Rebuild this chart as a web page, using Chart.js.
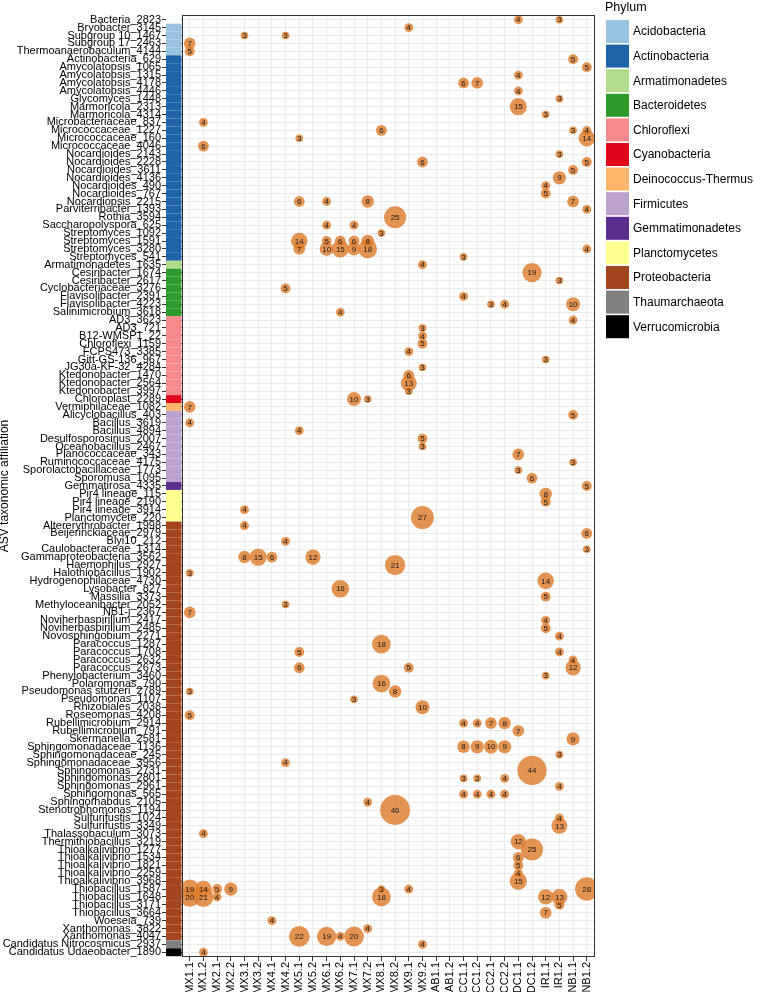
<!DOCTYPE html>
<html lang="en">
<head>
  <meta charset="UTF-8" />
  <title>ASV bubble plot by sample</title>
  <script src="https://cdn.jsdelivr.net/npm/chart.js"></script>
  <style>
    html, body { margin: 0; padding: 0; background: #fff; }
    #wrap { position: relative; width: 760px; height: 992px; }
    canvas { display: block; }
  </style>
</head>
<body>
  <div id="wrap"><canvas id="bubbleChart"></canvas></div>

  <script>
    const FONT = '"Liberation Sans", Arial, Helvetica, sans-serif';

    // x categories (samples)
    const samples = ['MX1.1', 'MX1.2', 'MX2.1', 'MX2.2', 'MX3.1', 'MX3.2', 'MX4.1', 'MX4.2', 'MX5.1', 'MX5.2',
      'MX6.1', 'MX6.2', 'MX7.1', 'MX7.2', 'MX8.1', 'MX8.2', 'MX9.1', 'MX9.2', 'AB1.1', 'AB1.2',
      'CC1.1', 'CC1.2', 'CC2.1', 'CC2.2', 'DC1.1', 'DC1.2', 'IR1.1', 'IR1.2', 'NB1.1', 'NB1.2'];

    // y categories (ASVs), top to bottom
    const asvs = ['Bacteria_2823', 'Bryobacter_3145', 'Subgroup 10_1467', 'Subgroup 17_2463', 'Thermoanaerobaculum_4144',
      'Actinobacteria_629', 'Amycolatopsis_1065', 'Amycolatopsis_1315', 'Amycolatopsis_4178', 'Amycolatopsis_4446',
      'Glycomyces_1448', 'Marmoricola_2313', 'Marmoricola_4314', 'Microbacteriaceae_837', 'Micrococcaceae_1227',
      'Micrococcaceae_160', 'Micrococcaceae_4046', 'Nocardioides_2143', 'Nocardioides_2228', 'Nocardioides_3611',
      'Nocardioides_4136', 'Nocardioides_490', 'Nocardioides_767', 'Nocardiopsis_2215', 'Parviterribacter_1393',
      'Rothia_3594', 'Saccharopolyspora_625', 'Streptomyces_1092', 'Streptomyces_1591', 'Streptomyces_3280',
      'Streptomyces_541', 'Armatimonadetes_1635', 'Cesiribacter_1674', 'Cesiribacter_2617', 'Cyclobacteriaceae_3276',
      'Flavisolibacter_2391', 'Flavisolibacter_4223', 'Salinimicrobium_3618', 'AD3_3623', 'AD3_721',
      'B12-WMSP1_22', 'Chloroflexi_1159', 'FCPS473_3385', 'Gitt-GS-136_967', 'JG30a-KF-32_4284',
      'Ktedonobacter_1470', 'Ktedonobacter_2564', 'Ktedonobacter_3997', 'Chloroplast_2289', 'Vermiphilaceae_1082',
      'Alicyclobacillus_403', 'Bacillus_3619', 'Bacillus_4894', 'Desulfosporosinus_2007', 'Oceanobacillus_2467',
      'Planococcaceae_343', 'Ruminococcaceae_4175', 'Sporolactobacillaceae_1773', 'Sporomusa_1095', 'Gemmatirosa_4335',
      'Pir4 lineage_115', 'Pir4 lineage_2190', 'Pir4 lineage_3914', 'Planctomycete_220', 'Altererythrobacter_1998',
      'Beijerinckiaceae_2979', 'Blyi10_212', 'Caulobacteraceae_1314', 'Gammaproteobacteria_3562', 'Haemophilus_2927',
      'Halothiobacillus_1902', 'Hydrogenophilaceae_4730', 'Lysobacter_827', 'Massilia_3373', 'Methyloceanibacter_2052',
      'NB1-j_2367', 'Noviherbaspirillum_2417', 'Noviherbaspirillum_2485', 'Novosphingobium_2271', 'Paracoccus_1287',
      'Paracoccus_1708', 'Paracoccus_2632', 'Paracoccus_2673', 'Phenylobacterium_3460', 'Polaromonas_790',
      'Pseudomonas stutzeri_2789', 'Pseudomonas_1107', 'Rhizobiales_2038', 'Roseomonas_4208', 'Rubellimicrobium_2914',
      'Rubellimicrobium_791', 'Skermanella_2581', 'Sphingomonadaceae_1136', 'Sphingomonadaceae_245', 'Sphingomonadaceae_3956',
      'Sphingomonas_2731', 'Sphingomonas_2801', 'Sphingomonas_2961', 'Sphingomonas_565', 'Sphingorhabdus_2105',
      'Stenotrophomonas_1194', 'Sulfurifustis_1024', 'Sulfurifustis_3349', 'Thalassobaculum_3073', 'Thermithiobacillus_3219',
      'Thioalkalivibrio_1277', 'Thioalkalivibrio_1534', 'Thioalkalivibrio_1821', 'Thioalkalivibrio_2259', 'Thioalkalivibrio_3968',
      'Thiobacillus_1587', 'Thiobacillus_1648', 'Thiobacillus_3171', 'Thiobacillus_3664', 'Woeseia_739',
      'Xanthomonas_3822', 'Xanthomonas_4047', 'Candidatus Nitrocosmicus_2937', 'Candidatus Udaeobacter_1890'];

    // legend
    const phyla = ['Acidobacteria', 'Actinobacteria', 'Armatimonadetes', 'Bacteroidetes', 'Chloroflexi', 'Cyanobacteria',
      'Deinococcus-Thermus', 'Firmicutes', 'Gemmatimonadetes', 'Planctomycetes', 'Proteobacteria', 'Thaumarchaeota',
      'Verrucomicrobia'];
    const phylumColors = ['#97c3e0', '#1f64a9', '#b1dc8c', '#2f9a2c', '#f6898b', '#e0061c', '#fdb56c', '#bca2cf',
      '#5a2d8e', '#ffff8f', '#a3461f', '#808080', '#000000'];

    // phylum of the ASVs, as consecutive runs down the y axis (null = unassigned)
    const phylumRuns = [[null, 1], ['Acidobacteria', 4], ['Actinobacteria', 26], ['Armatimonadetes', 1],
      ['Bacteroidetes', 6], ['Chloroflexi', 10], ['Cyanobacteria', 1], ['Deinococcus-Thermus', 1], ['Firmicutes', 9],
      ['Gemmatimonadetes', 1], ['Planctomycetes', 4], ['Proteobacteria', 53], ['Thaumarchaeota', 1], ['Verrucomicrobia', 1]];

    // [ASV, sample, count]
    const cells = [
      ['Bacteria_2823', 'DC1.1', 4], ['Bacteria_2823', 'IR1.2', 3],
      ['Bryobacter_3145', 'MX9.1', 4],
      ['Subgroup 10_1467', 'MX3.1', 3], ['Subgroup 10_1467', 'MX4.2', 3],
      ['Subgroup 17_2463', 'MX1.1', 7],
      ['Thermoanaerobaculum_4144', 'MX1.1', 5],
      ['Actinobacteria_629', 'NB1.1', 5],
      ['Amycolatopsis_1065', 'NB1.2', 5],
      ['Amycolatopsis_1315', 'DC1.1', 4],
      ['Amycolatopsis_4178', 'CC1.1', 6], ['Amycolatopsis_4178', 'CC1.2', 7],
      ['Amycolatopsis_4446', 'DC1.1', 4],
      ['Glycomyces_1448', 'IR1.2', 3],
      ['Marmoricola_2313', 'DC1.1', 15],
      ['Marmoricola_4314', 'IR1.1', 3],
      ['Microbacteriaceae_837', 'MX1.2', 4],
      ['Micrococcaceae_1227', 'MX8.1', 6], ['Micrococcaceae_1227', 'NB1.1', 3], ['Micrococcaceae_1227', 'NB1.2', 4],
      ['Micrococcaceae_160', 'MX5.1', 3], ['Micrococcaceae_160', 'NB1.2', 14],
      ['Micrococcaceae_4046', 'MX1.2', 6],
      ['Nocardioides_2143', 'IR1.2', 3],
      ['Nocardioides_2228', 'MX9.2', 6], ['Nocardioides_2228', 'NB1.2', 5],
      ['Nocardioides_3611', 'NB1.1', 5],
      ['Nocardioides_4136', 'IR1.2', 9],
      ['Nocardioides_490', 'IR1.1', 4],
      ['Nocardioides_767', 'IR1.1', 5],
      ['Nocardiopsis_2215', 'MX5.1', 6], ['Nocardiopsis_2215', 'MX6.1', 4], ['Nocardiopsis_2215', 'MX7.2', 8], ['Nocardiopsis_2215', 'NB1.1', 7],
      ['Parviterribacter_1393', 'NB1.2', 4],
      ['Rothia_3594', 'MX8.2', 25],
      ['Saccharopolyspora_625', 'MX6.1', 4], ['Saccharopolyspora_625', 'MX7.1', 4],
      ['Streptomyces_1092', 'MX8.1', 3],
      ['Streptomyces_1591', 'MX5.1', 14], ['Streptomyces_1591', 'MX6.1', 5], ['Streptomyces_1591', 'MX6.2', 6], ['Streptomyces_1591', 'MX7.1', 6], ['Streptomyces_1591', 'MX7.2', 8],
      ['Streptomyces_3280', 'MX5.1', 7], ['Streptomyces_3280', 'MX6.1', 10], ['Streptomyces_3280', 'MX6.2', 15], ['Streptomyces_3280', 'MX7.1', 9], ['Streptomyces_3280', 'MX7.2', 18], ['Streptomyces_3280', 'NB1.2', 4],
      ['Streptomyces_541', 'CC1.1', 3],
      ['Armatimonadetes_1635', 'MX9.2', 4],
      ['Cesiribacter_1674', 'DC1.2', 19],
      ['Cesiribacter_2617', 'IR1.2', 3],
      ['Cyclobacteriaceae_3276', 'MX4.2', 5],
      ['Flavisolibacter_2391', 'CC1.1', 4],
      ['Flavisolibacter_4223', 'CC2.1', 3], ['Flavisolibacter_4223', 'CC2.2', 4], ['Flavisolibacter_4223', 'NB1.1', 10],
      ['Salinimicrobium_3618', 'MX6.2', 4],
      ['AD3_3623', 'NB1.1', 4],
      ['AD3_721', 'MX9.2', 3],
      ['B12-WMSP1_22', 'MX9.2', 4],
      ['Chloroflexi_1159', 'MX9.2', 5],
      ['FCPS473_3385', 'MX9.1', 4],
      ['Gitt-GS-136_967', 'IR1.1', 3],
      ['JG30a-KF-32_4284', 'MX9.2', 3],
      ['Ktedonobacter_1470', 'MX9.1', 6],
      ['Ktedonobacter_2564', 'MX9.1', 13],
      ['Ktedonobacter_3997', 'MX9.1', 3],
      ['Chloroplast_2289', 'MX7.1', 10], ['Chloroplast_2289', 'MX7.2', 3],
      ['Vermiphilaceae_1082', 'MX1.1', 7],
      ['Alicyclobacillus_403', 'NB1.1', 5],
      ['Bacillus_3619', 'MX1.1', 4],
      ['Bacillus_4894', 'MX5.1', 4],
      ['Desulfosporosinus_2007', 'MX9.2', 5],
      ['Oceanobacillus_2467', 'MX9.2', 3],
      ['Planococcaceae_343', 'DC1.1', 7],
      ['Ruminococcaceae_4175', 'NB1.1', 3],
      ['Sporolactobacillaceae_1773', 'DC1.1', 3],
      ['Sporomusa_1095', 'DC1.2', 6],
      ['Gemmatirosa_4335', 'NB1.2', 5],
      ['Pir4 lineage_115', 'IR1.1', 8],
      ['Pir4 lineage_2190', 'IR1.1', 5],
      ['Pir4 lineage_3914', 'MX3.1', 4],
      ['Planctomycete_220', 'MX9.2', 27],
      ['Altererythrobacter_1998', 'MX3.1', 4],
      ['Beijerinckiaceae_2979', 'NB1.2', 6],
      ['Blyi10_212', 'MX4.2', 4],
      ['Caulobacteraceae_1314', 'NB1.2', 3],
      ['Gammaproteobacteria_3562', 'MX3.1', 8], ['Gammaproteobacteria_3562', 'MX3.2', 15], ['Gammaproteobacteria_3562', 'MX4.1', 6], ['Gammaproteobacteria_3562', 'MX5.2', 12],
      ['Haemophilus_2927', 'MX8.2', 21],
      ['Halothiobacillus_1902', 'MX1.1', 3],
      ['Hydrogenophilaceae_4730', 'IR1.1', 14],
      ['Lysobacter_827', 'MX6.2', 16],
      ['Massilia_3373', 'IR1.1', 5],
      ['Methyloceanibacter_2052', 'MX4.2', 3],
      ['NB1-j_2367', 'MX1.1', 7],
      ['Noviherbaspirillum_2417', 'IR1.1', 4],
      ['Noviherbaspirillum_2485', 'IR1.1', 5],
      ['Novosphingobium_2271', 'IR1.2', 4],
      ['Paracoccus_1287', 'MX8.1', 18],
      ['Paracoccus_1708', 'MX5.1', 5], ['Paracoccus_1708', 'IR1.2', 4],
      ['Paracoccus_2632', 'NB1.1', 4],
      ['Paracoccus_2673', 'MX5.1', 6], ['Paracoccus_2673', 'MX9.1', 5], ['Paracoccus_2673', 'NB1.1', 12],
      ['Phenylobacterium_3460', 'IR1.1', 3],
      ['Polaromonas_790', 'MX8.1', 16],
      ['Pseudomonas stutzeri_2789', 'MX1.1', 3], ['Pseudomonas stutzeri_2789', 'MX8.2', 8],
      ['Pseudomonas_1107', 'MX7.1', 3],
      ['Rhizobiales_2038', 'MX9.2', 10],
      ['Roseomonas_4208', 'MX1.1', 5],
      ['Rubellimicrobium_2914', 'CC1.1', 4], ['Rubellimicrobium_2914', 'CC1.2', 4], ['Rubellimicrobium_2914', 'CC2.1', 7], ['Rubellimicrobium_2914', 'CC2.2', 8],
      ['Rubellimicrobium_791', 'DC1.1', 7],
      ['Skermanella_2581', 'NB1.1', 9],
      ['Sphingomonadaceae_1136', 'CC1.1', 8], ['Sphingomonadaceae_1136', 'CC1.2', 9], ['Sphingomonadaceae_1136', 'CC2.1', 10], ['Sphingomonadaceae_1136', 'CC2.2', 9],
      ['Sphingomonadaceae_245', 'IR1.2', 3],
      ['Sphingomonadaceae_3956', 'MX4.2', 4],
      ['Sphingomonas_2731', 'DC1.2', 44],
      ['Sphingomonas_2801', 'CC1.1', 3], ['Sphingomonas_2801', 'CC1.2', 3], ['Sphingomonas_2801', 'CC2.2', 4],
      ['Sphingomonas_2961', 'IR1.2', 4],
      ['Sphingomonas_565', 'CC1.1', 4], ['Sphingomonas_565', 'CC1.2', 4], ['Sphingomonas_565', 'CC2.1', 4], ['Sphingomonas_565', 'CC2.2', 4],
      ['Sphingorhabdus_2105', 'MX7.2', 4],
      ['Stenotrophomonas_1194', 'MX8.2', 46],
      ['Sulfurifustis_1024', 'IR1.2', 4],
      ['Sulfurifustis_3349', 'IR1.2', 13],
      ['Thalassobaculum_3073', 'MX1.2', 4],
      ['Thermithiobacillus_3219', 'DC1.1', 12],
      ['Thioalkalivibrio_1277', 'DC1.2', 25],
      ['Thioalkalivibrio_1534', 'DC1.1', 6],
      ['Thioalkalivibrio_1821', 'DC1.1', 5],
      ['Thioalkalivibrio_2259', 'DC1.1', 4],
      ['Thioalkalivibrio_3968', 'DC1.1', 15],
      ['Thiobacillus_1587', 'MX1.1', 19], ['Thiobacillus_1587', 'MX1.2', 14], ['Thiobacillus_1587', 'MX2.1', 5], ['Thiobacillus_1587', 'MX2.2', 9], ['Thiobacillus_1587', 'MX8.1', 3], ['Thiobacillus_1587', 'MX9.1', 4], ['Thiobacillus_1587', 'NB1.2', 28],
      ['Thiobacillus_1648', 'MX1.1', 20], ['Thiobacillus_1648', 'MX1.2', 21], ['Thiobacillus_1648', 'MX2.1', 4], ['Thiobacillus_1648', 'MX8.1', 18], ['Thiobacillus_1648', 'IR1.1', 12], ['Thiobacillus_1648', 'IR1.2', 13],
      ['Thiobacillus_3171', 'IR1.2', 5],
      ['Thiobacillus_3664', 'IR1.1', 7],
      ['Woeseia_739', 'MX4.1', 4],
      ['Xanthomonas_3822', 'MX7.2', 4],
      ['Xanthomonas_4047', 'MX5.1', 22], ['Xanthomonas_4047', 'MX6.1', 19], ['Xanthomonas_4047', 'MX6.2', 4], ['Xanthomonas_4047', 'MX7.1', 20],
      ['Candidatus Nitrocosmicus_2937', 'MX9.2', 4],
      ['Candidatus Udaeobacter_1890', 'MX1.2', 4]
    ];

    // bubble area proportional to count
    const sizeFor = n => 2.21 * Math.sqrt(n);

    const points = cells.map(([asv, sample, n]) => ({
      x: samples.indexOf(sample),
      y: asvs.indexOf(asv),
      r: sizeFor(n),
      n
    }));

    // phylum per row, expanded from the runs
    const rowPhylum = phylumRuns.flatMap(([p, count]) => Array(count).fill(p));

    const STRIP_LEFT = 166;

    // phylum strip, panel border, bubble labels and the phylum key
    const extras = {
      id: 'extras',
      afterDatasetsDraw(chart) {
        const ctx = chart.ctx;
        const meta = chart.getDatasetMeta(0);
        ctx.save();
        ctx.font = `8px ${FONT}`;
        ctx.fillStyle = '#1a1a1a';
        ctx.textAlign = 'center';
        ctx.textBaseline = 'middle';
        meta.data.forEach((el, i) => ctx.fillText(String(points[i].n), el.x, el.y + 0.5));
        ctx.restore();
      },
      afterDraw(chart) {
        const ctx = chart.ctx;
        const area = chart.chartArea;
        const ys = chart.scales.y;
        ctx.save();

        rowPhylum.forEach((p, i) => {
          const a = ys.getPixelForValue(i - 0.5);
          const b = ys.getPixelForValue(i + 0.5);
          ctx.fillStyle = p ? phylumColors[phyla.indexOf(p)] : '#ffffff';
          ctx.fillRect(STRIP_LEFT, Math.min(a, b), area.left - STRIP_LEFT, Math.abs(b - a));
        });

        ctx.strokeStyle = '#333333';
        ctx.lineWidth = 1;
        const l = Math.round(area.left) + 0.5, t = Math.round(area.top) + 0.5;
        const r = Math.round(area.right) - 0.5, b = Math.round(area.bottom) - 0.5;
        ctx.strokeRect(l, t, r - l, b - t);

        // phylum key
        const keyX = 606, keyTop = 20, step = 24.6, box = 23;
        ctx.fillStyle = '#000';
        ctx.textBaseline = 'top';
        ctx.textAlign = 'left';
        ctx.font = `12.5px ${FONT}`;
        ctx.fillText('Phylum', 605, 1.5);
        ctx.font = `12px ${FONT}`;
        ctx.textBaseline = 'middle';
        phyla.forEach((p, i) => {
          const y = keyTop + i * step;
          ctx.fillStyle = phylumColors[i];
          ctx.fillRect(keyX, y, box, box);
          ctx.fillStyle = '#000';
          ctx.fillText(p, keyX + 27, y + box / 2 + 0.5);
        });
        ctx.restore();
      }
    };

    const ctx = document.getElementById('bubbleChart').getContext('2d');
    new Chart(ctx, {
      type: 'bubble',
      data: {
        datasets: [{
          data: points,
          backgroundColor: 'rgba(222,124,44,0.82)',
          borderWidth: 0,
          hoverBorderWidth: 0
        }]
      },
      options: {
        responsive: true,
        maintainAspectRatio: false,
        animation: false,
        events: [],
        layout: { padding: { top: 0.5, right: 165, bottom: 0, left: 0 } },
        plugins: {
          legend: { display: false },
          tooltip: { enabled: false }
        },
        scales: {
          x: {
            type: 'linear',
            min: -0.6,
            max: samples.length - 0.4,
            afterBuildTicks: s => { s.ticks = samples.map((_, i) => ({ value: i })); },
            afterFit: s => { s.height = 35; s.paddingLeft = 0; s.paddingRight = 0; },
            ticks: {
              autoSkip: false,
              minRotation: 90,
              maxRotation: 90,
              padding: 1,
              color: '#000',
              font: { family: FONT, size: 11 },
              callback: v => samples[v]
            },
            grid: { color: '#ebebeb', lineWidth: 1, tickColor: '#333', tickLength: 4 },
            border: { display: false }
          },
          y: {
            type: 'linear',
            reverse: true,
            min: -0.6,
            max: asvs.length - 0.4,
            afterBuildTicks: s => { s.ticks = asvs.map((_, i) => ({ value: i })); },
            afterFit: s => { s.width = 181.5; s.paddingTop = 0; s.paddingBottom = 0; },
            ticks: {
              autoSkip: false,
              padding: 1,
              color: '#000',
              font: { family: FONT, size: 11 },
              callback: v => asvs[v]
            },
            grid: { color: '#ebebeb', lineWidth: 1, tickColor: '#333', tickLength: 19.5 },
            border: { display: false },
            title: {
              display: true,
              text: 'ASV taxonomic affiliation',
              color: '#000',
              padding: 0,
              font: { family: FONT, size: 12, lineHeight: 0.8 }
            }
          }
        }
      },
      plugins: [extras]
    });
  </script>
</body>
</html>
